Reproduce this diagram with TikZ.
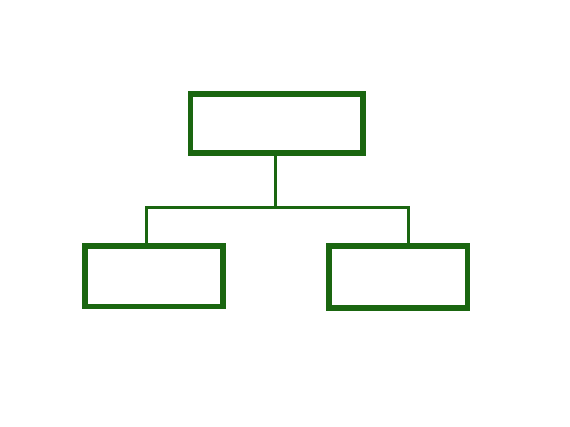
\documentclass[tikz,border=0pt]{standalone}
\definecolor{boxgreen}{RGB}{26,102,16}
\begin{document}
\begin{tikzpicture}[x=1pt,y=-1pt,
  orgbox/.style={draw=boxgreen,line width=5.5pt,rectangle,inner sep=0pt,outer sep=0pt,fill=white},
  link/.style={draw=boxgreen,line width=3.3pt}]
\useasboundingbox (0,0) rectangle (570,426);
\node[orgbox,minimum width=172.5pt,minimum height=59pt] (top) at (276.7,123.5) {};
\node[orgbox,minimum width=137.8pt,minimum height=60.7pt] (left) at (153.9,276.3) {};
\node[orgbox,minimum width=138.3pt,minimum height=61.8pt] (right) at (398.3,276.9) {};
\coordinate (jl) at (146.3,207.3);
\coordinate (jr) at (408.3,207.3);
\coordinate (jm) at (275.7,207.3);
\begin{scope}[on background layer/.try]
\end{scope}
\draw[link] (jm |- top.south) -- (jm);
\draw[link,line cap=rect] (jl) -- (jr);
\draw[link] (jl) -- (jl |- left.north);
\draw[link] (jr) -- (jr |- right.north);
\end{tikzpicture}
\end{document}
